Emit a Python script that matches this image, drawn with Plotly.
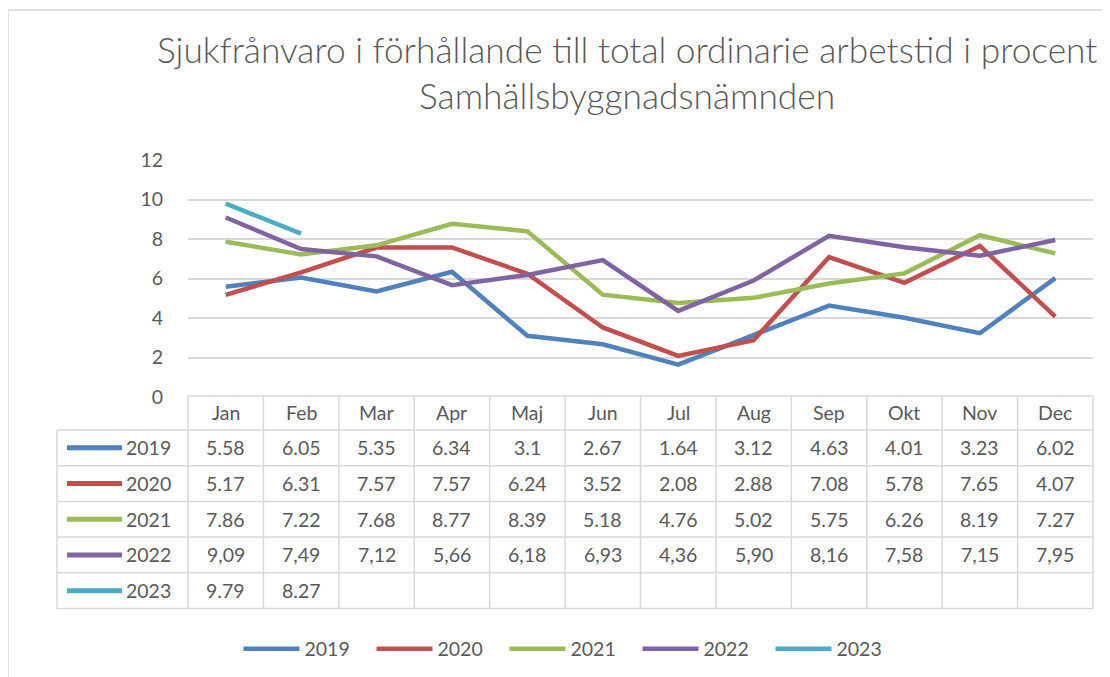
import plotly.graph_objects as go

months = ["Jan", "Feb", "Mar", "Apr", "Maj", "Jun", "Jul", "Aug", "Sep", "Okt", "Nov", "Dec"]
years = ["2019", "2020", "2021", "2022", "2023"]

v2019 = [5.58, 6.05, 5.35, 6.34, 3.1, 2.67, 1.64, 3.12, 4.63, 4.01, 3.23, 6.02]
v2020 = [5.17, 6.31, 7.57, 7.57, 6.24, 3.52, 2.08, 2.88, 7.08, 5.78, 7.65, 4.07]
v2021 = [7.86, 7.22, 7.68, 8.77, 8.39, 5.18, 4.76, 5.02, 5.75, 6.26, 8.19, 7.27]
v2022 = [9.09, 7.49, 7.12, 5.66, 6.18, 6.93, 4.36, 5.90, 8.16, 7.58, 7.15, 7.95]
v2023 = [9.79, 8.27]

series = [v2019, v2020, v2021, v2022, v2023]
colors = ["#4F81BD", "#C0504D", "#9BBB59", "#8064A2", "#4BACC6"]

# table text as shown in the reference (2022 uses decimal comma)
table_labels = [
    [f"{v:g}" for v in v2019],
    [f"{v:g}" for v in v2020],
    [f"{v:g}" for v in v2021],
    [f"{v:.2f}".replace(".", ",") for v in v2022],
    [f"{v:.2f}" for v in v2023],
]

TITLE_1 = "Sjukfrånvaro i förhållande till total ordinarie arbetstid i procent"
TITLE_2 = "Samhällsbyggnadsnämnden"
FONT = "Lato, 'Open Sans', sans-serif"
GRAY = "#595959"
GRID = "#D9D9D9"
TXT = 19.5

W, H = 1110, 677
OFF = 8  # page body margin: screen coords = figure coords + 8
# plot area in screen pixels: x 188..1093, y 160..397
SX0, SX1, SY0, SY1 = 188, 1093, 160, 397
L = SX0 - OFF
R = W - (SX1 - OFF)
T = SY0 - OFF
B = H - (SY1 - OFF)
PW = W - L - R
PH = H - T - B


def px(xs):
    return (xs - SX0) / PW


def py(ys):
    return (SY1 - ys) / PH


fig = go.Figure()
for name, vals, col in zip(years, series, colors):
    fig.add_trace(go.Scatter(
        x=months[:len(vals)], y=vals, name=name, mode="lines",
        line=dict(color=col, width=4.5, shape="linear"),
        hoverinfo="skip",
    ))

shapes = []
annotations = []

# outer chart border (top and left visible)
shapes.append(dict(type="line", xref="paper", yref="paper", x0=px(8), x1=px(1130), y0=py(10), y1=py(10),
                   line=dict(color=GRID, width=1.5)))
shapes.append(dict(type="line", xref="paper", yref="paper", x0=px(8), x1=px(8), y0=py(10), y1=py(700),
                   line=dict(color=GRID, width=1.5)))

# title
for txt, yc in ((TITLE_1, 50), (TITLE_2, 96)):
    annotations.append(dict(x=px(627), xref="paper", y=py(yc), yref="paper", text=txt, showarrow=False,
                            font=dict(family=FONT, size=35.3, color=GRAY, weight=300),
                            xanchor="center", yanchor="middle"))

# data table geometry
header_top, header_bot = 396, 430
row_h = 35.7
row_edges = [header_bot + k * row_h for k in range(len(years) + 1)]
table_bottom = row_edges[-1]
key_left = 57

# horizontal lines
shapes.append(dict(type="line", xref="paper", yref="paper", x0=0, x1=1, y0=py(header_top), y1=py(header_top),
                   line=dict(color=GRID, width=1.5)))
for e in row_edges:
    shapes.append(dict(type="line", xref="paper", yref="paper", x0=px(key_left), x1=1, y0=py(e), y1=py(e),
                       line=dict(color=GRID, width=1.5)))
# vertical lines
for i in range(len(months) + 1):
    xp = i / len(months)
    shapes.append(dict(type="line", xref="paper", yref="paper", x0=xp, x1=xp, y0=py(table_bottom), y1=py(header_top),
                       line=dict(color=GRID, width=1.5)))
shapes.append(dict(type="line", xref="paper", yref="paper", x0=px(key_left), x1=px(key_left),
                   y0=py(table_bottom), y1=py(header_bot), line=dict(color=GRID, width=1.5)))

# header labels
for m in months:
    annotations.append(dict(x=m, xref="x", y=py((header_top + header_bot) / 2 - 1), yref="paper",
                            text=m, showarrow=False, font=dict(family=FONT, size=TXT, color=GRAY),
                            xanchor="center", yanchor="middle"))

# rows
for r, (name, labels, col) in enumerate(zip(years, table_labels, colors)):
    yc = (row_edges[r] + row_edges[r + 1]) / 2
    shapes.append(dict(type="line", xref="paper", yref="paper", x0=px(67), x1=px(122), y0=py(yc), y1=py(yc),
                       line=dict(color=col, width=5)))
    annotations.append(dict(x=px(124), xref="paper", y=py(yc), yref="paper", text=name, showarrow=False,
                            font=dict(family=FONT, size=TXT, color=GRAY), xanchor="left", yanchor="middle"))
    for m, t in zip(months, labels):
        annotations.append(dict(x=m, xref="x", y=py(yc), yref="paper", text=t, showarrow=False,
                                font=dict(family=FONT, size=TXT, color=GRAY), xanchor="center", yanchor="middle"))

fig.update_layout(
    width=W, height=H,
    margin=dict(l=L, r=R, t=T, b=B, pad=0),
    paper_bgcolor="white", plot_bgcolor="white",
    xaxis=dict(type="category", categoryorder="array", categoryarray=months, range=[-0.5, 11.5],
               showticklabels=False, showgrid=False, zeroline=False, showline=False, ticks="", fixedrange=True),
    yaxis=dict(range=[0, 12], dtick=2, tick0=0, showgrid=True, gridcolor=GRID, gridwidth=1.5,
               zeroline=False, showline=False, ticks="outside", ticklen=20, tickcolor="rgba(0,0,0,0)",
               tickfont=dict(family=FONT, size=TXT, color=GRAY), fixedrange=True),
    showlegend=True,
    legend=dict(orientation="h", x=px(571), xref="paper", xanchor="center", y=py(649), yanchor="middle",
                font=dict(family=FONT, size=TXT, color=GRAY), itemwidth=56, entrywidth=62,
                entrywidthmode="pixels", bgcolor="rgba(0,0,0,0)"),
    shapes=shapes,
    annotations=annotations,
    hovermode=False,
)

fig.write_html("out.html")
